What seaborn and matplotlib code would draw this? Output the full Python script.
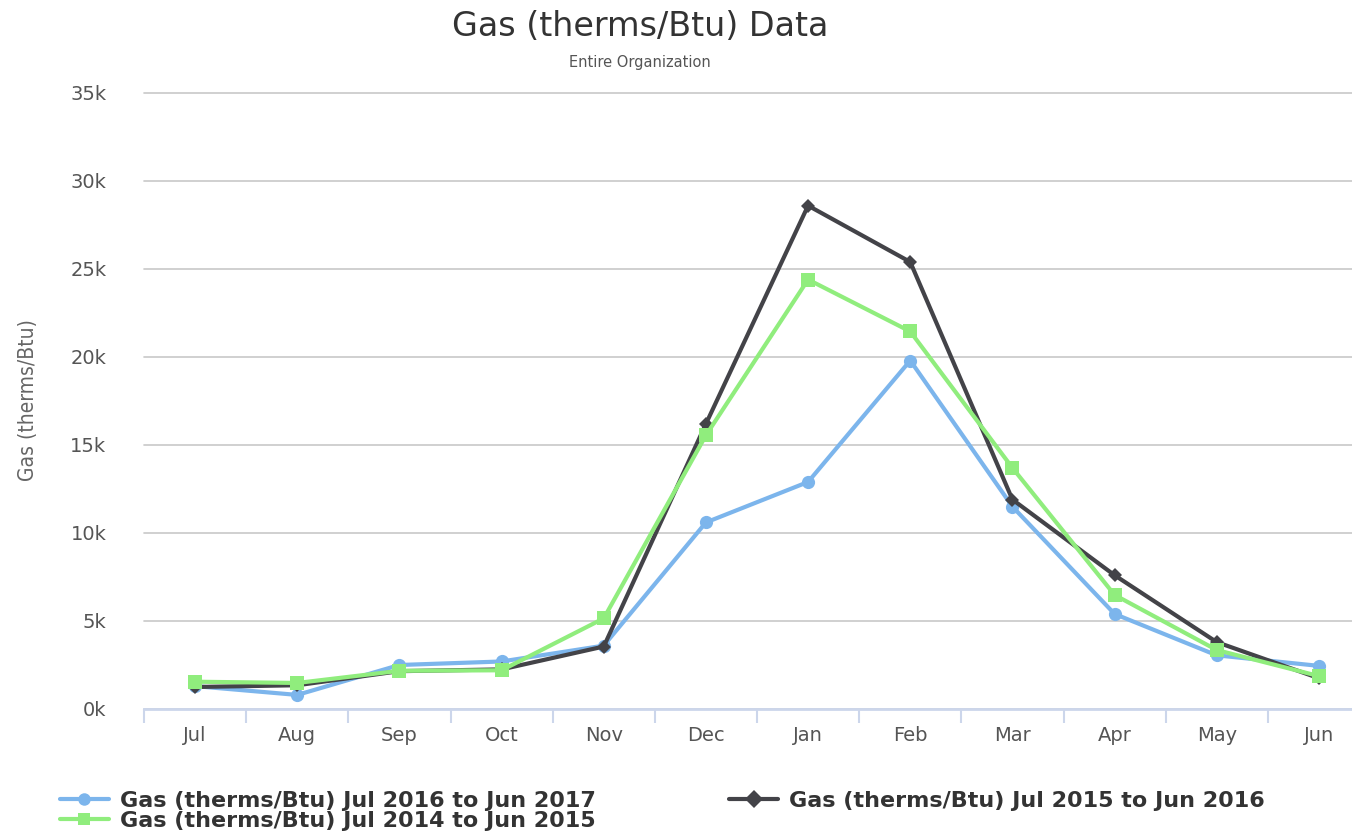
import numpy as np
import pandas as pd
import matplotlib
matplotlib.use("Agg")
import matplotlib.pyplot as plt
import seaborn as sns
from matplotlib.font_manager import FontProperties

# month labels and the three seasons of gas use (therms/Btu)
months = ["Jul", "Aug", "Sep", "Oct", "Nov", "Dec", "Jan", "Feb", "Mar", "Apr", "May", "Jun"]
gas_2016_17 = [1300, 800, 2500, 2700, 3600, 10600, 12900, 19800, 11500, 5400, 3050, 2450]
gas_2015_16 = [1250, 1350, 2150, 2250, 3550, 16200, 28600, 25400, 11900, 7600, 3800, 1750]
gas_2014_15 = [1550, 1480, 2170, 2200, 5150, 15550, 24400, 21450, 13700, 6480, 3350, 1870]

labels = ["Gas (therms/Btu) Jul 2016 to Jun 2017",
          "Gas (therms/Btu) Jul 2015 to Jun 2016",
          "Gas (therms/Btu) Jul 2014 to Jun 2015"]
colors = ["#7cb5ec", "#434348", "#90ed7d"]
markers = ["o", "D", "s"]

rows = []
for lab, vals in zip(labels, [gas_2016_17, gas_2015_16, gas_2014_15]):
    for i, v in enumerate(vals):
        rows.append({"month": i, "value": v, "series": lab})
df = pd.DataFrame(rows)

sns.set_style("white")

fig = plt.figure(figsize=(13.52, 8.34), dpi=100)
ax = fig.add_axes([144 / 1352, 125 / 834, 1226 / 1352, 616 / 834])

sns.lineplot(data=df, x="month", y="value", hue="series", style="series",
             hue_order=labels, style_order=labels, palette=colors,
             markers=dict(zip(labels, markers)), dashes=False,
             linewidth=3, markersize=9, markeredgewidth=0, ax=ax)
# highcharts-like marker sizes
for line, ms in zip(ax.lines[:3], [9.5, 7.5, 10.5]):
    line.set_markersize(ms)

ax.set_xlim(-0.5, 11.5)
ax.set_ylim(0, 35000)
ax.set_yticks(np.arange(0, 35001, 5000))
ax.set_yticklabels([f"{int(t/1000)}k" for t in np.arange(0, 35001, 5000)])
ax.set_xticks(range(12))
ax.set_xticklabels(months)
ax.set_xticks(np.arange(-0.5, 12, 1), minor=True)
ax.tick_params(axis="x", which="major", bottom=False, length=0, pad=12, labelsize=14)
ax.tick_params(axis="x", which="minor", bottom=True, length=10, width=1.5,
               color="#ccd6eb", direction="out")
ax.tick_params(axis="y", left=False, length=0, pad=27, labelsize=14)
for t in ax.get_yticklabels() + ax.get_xticklabels():
    t.set_color("#555555")

ax.yaxis.grid(True, color="#c8c8c8", linewidth=1.2)
for gl in ax.get_ygridlines():
    gl.set_clip_on(False)
ax.set_axisbelow(True)
for s in ["top", "right", "left"]:
    ax.spines[s].set_visible(False)
ax.spines["bottom"].set_color("#ccd6eb")
ax.spines["bottom"].set_linewidth(2)

ax.set_xlabel("")
ax.set_ylabel("")
cond = FontProperties(family="DejaVu Sans", stretch="condensed", size=15)
fig.text(28 / 1352, 1 - 400 / 834, "Gas (therms/Btu)", rotation=90, ha="center", va="center",
         fontproperties=cond, color="#666666")

fig.text(640 / 1352, 1 - 26 / 834, "Gas (therms/Btu) Data", ha="center", va="center",
         fontsize=24, color="#333333")
fig.text(640 / 1352, 1 - 62 / 834, "Entire Organization", ha="center", va="center",
         fontsize=10.5, color="#555555")

handles, labs = ax.get_legend_handles_labels()
ax.legend_.remove()
order = [0, 2, 1]
leg = fig.legend([handles[i] for i in order], [labs[i] for i in order], ncol=2,
                 loc="upper left", bbox_to_anchor=(60 / 1352, 1 - 791 / 834),
                 frameon=False, handlelength=2.2, columnspacing=6.0, handletextpad=0.5,
                 labelspacing=0.0, borderaxespad=0, borderpad=0,
                 prop=FontProperties(family="DejaVu Sans", weight="bold", size=16))
for t in leg.get_texts():
    t.set_color("#333333")

fig.savefig("out.png", dpi=100)
